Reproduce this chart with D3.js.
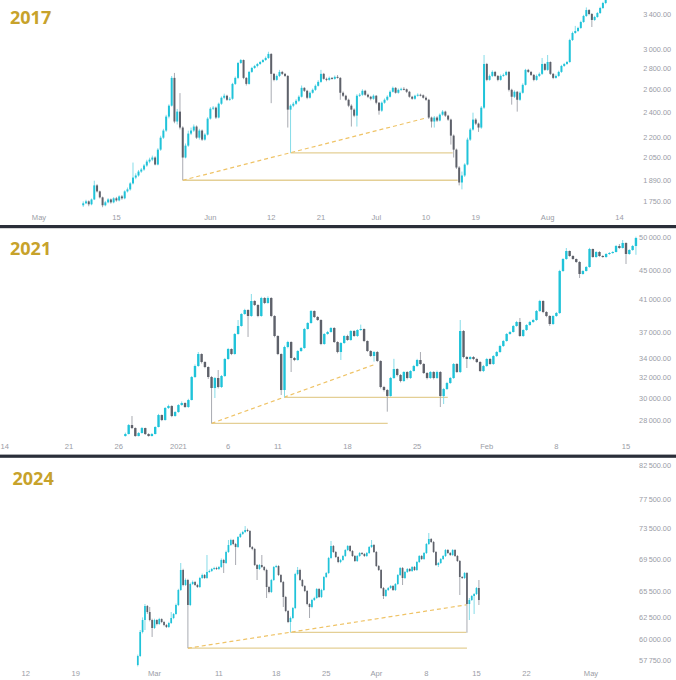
<!DOCTYPE html>
<html><head><meta charset="utf-8">
<script src="https://cdn.jsdelivr.net/npm/d3@7"></script>
<style>html,body{margin:0;padding:0;background:#fff}svg{display:block}</style>
</head><body>
<svg id="chart" width="676" height="680"></svg>
<script>
// ---------- 2017 : 12h candles starting 2017-05-09 00:00 UTC ----------
const start17 = "2017-05-09T00:00:00Z", step17 = 12, open17 = 1728;
const close17 = [1740,1752,1734,1764,1854,1815,1777,1728,1746,1764,
1746,1771,1758,1783,1771,1815,1828,1867,1906,1920,
1947,1961,1989,2017,2031,2046,1996,2104,2195,2251,
2365,2458,2712,2324,2407,2275,2046,2134,2227,2251,
2283,2195,2251,2180,2219,2348,2432,2441,2357,2475,
2528,2546,2510,2519,2655,2712,2859,2889,2712,2655,
2770,2809,2829,2849,2869,2889,2910,2952,2751,2693,
2731,2770,2751,2731,2424,2458,2475,2501,2537,2618,
2591,2528,2573,2600,2637,2674,2751,2703,2693,2712,
2703,2722,2712,2573,2546,2510,2458,2424,2373,2546,
2555,2591,2555,2537,2519,2546,2484,2415,2484,2510,
2537,2582,2618,2573,2600,2609,2605,2582,2537,2519,
2546,2555,2550,2528,2510,2357,2324,2357,2332,2381,
2407,2373,2340,2211,2104,1975,1873,1920,1996,2180,
2259,2340,2307,2275,2441,2849,2693,2731,2770,2731,
2693,2731,2741,2770,2600,2537,2582,2510,2573,2646,
2790,2770,2741,2693,2731,2751,2849,2790,2869,2751,
2712,2731,2770,2829,2849,2869,3101,3179,3202,3236,
3305,3376,3448,3400,3329,3364,3412,3473,3535,3611];
const high17 = [1752,1762,1758,1770,1885,1862,1820,1782,1755,1772,
1770,1778,1780,1790,1792,1822,1840,1875,2010,1935,
1958,1972,2000,2030,2045,2060,2055,2115,2210,2265,
2380,2470,2730,2760,2430,2570,2285,2150,2250,2275,
2300,2292,2265,2260,2230,2360,2445,2455,2450,2485,
2540,2565,2555,2535,2665,2725,2870,2900,2895,2720,
2780,2820,2840,2860,2880,2900,2925,2975,2960,2760,
2745,2790,2780,2760,2740,2470,2490,2515,2550,2640,
2625,2600,2585,2612,2650,2690,2790,2760,2715,2725,
2720,2735,2740,2720,2585,2555,2520,2470,2435,2560,
2570,2605,2600,2565,2545,2558,2552,2490,2495,2522,
2550,2595,2630,2625,2612,2620,2625,2612,2590,2545,
2555,2568,2565,2558,2540,2518,2365,2370,2368,2392,
2420,2415,2380,2348,2220,2112,1985,1947,2005,2195,
2272,2398,2352,2315,2455,2941,2860,2745,2785,2780,
2740,2745,2755,2782,2780,2610,2595,2590,2585,2660,
2800,2800,2780,2750,2745,2765,2910,2858,2941,2875,
2760,2745,2782,2840,2860,2880,3115,3195,3260,3250,
3320,3390,3480,3460,3412,3378,3425,3488,3550,3640];
const low17 = [1718,1735,1722,1728,1760,1808,1770,1716,1722,1740,
1738,1740,1750,1752,1762,1765,1808,1820,1860,1895,
1912,1938,1952,1980,2005,2020,1990,1990,2095,2185,
2240,2350,2450,2310,2300,2260,1888,2040,2125,2215,
2240,2185,2180,2170,2172,2212,2340,2420,2345,2350,
2465,2515,2500,2500,2510,2645,2700,2850,2700,2640,
2648,2760,2800,2815,2840,2860,2880,2900,2480,2680,
2685,2720,2740,2720,2275,2080,2445,2465,2490,2530,
2580,2515,2520,2565,2590,2630,2665,2695,2680,2685,
2695,2695,2705,2510,2535,2500,2445,2283,2360,2283,
2535,2545,2545,2525,2505,2510,2470,2381,2405,2475,
2500,2530,2575,2565,2565,2590,2595,2570,2528,2510,
2510,2538,2540,2520,2500,2345,2275,2275,2320,2325,
2372,2362,2330,2142,2046,1965,1854,1828,1910,1990,
2170,2250,2295,2240,2265,2430,2680,2685,2720,2720,
2680,2685,2722,2730,2585,2467,2525,2407,2500,2565,
2640,2760,2730,2680,2685,2720,2740,2780,2780,2740,
2700,2705,2722,2760,2820,2840,2860,3090,3170,3190,
3225,3295,3365,3385,3247,3318,3355,3400,3460,3520];
const priceTicks17 = [1750,1890,2050,2200,2400,2600,2800,3000,3400];
const timeTicks17 = ["2017-05-01","2017-05-15","2017-06-01","2017-06-12","2017-06-21","2017-07-01","2017-07-10","2017-07-19","2017-08-01","2017-08-14"];
const timeLabels17 = ["May","15","Jun","12","21","Jul","10","19","Aug","14"];
// pattern lines: [date, price]
const low1_17 = ["2017-05-27T00:00:00Z",1888], low2_17 = ["2017-06-15T12:00:00Z",2080];
const dashEnd17 = ["2017-07-10T04:00:00Z",2355];
const lowLineEnd17 = "2017-07-15T17:30:00Z", highLineEnd17 = "2017-07-14T20:00:00Z";

// ---------- 2021 : 8h candles starting 2020-12-26 16:00 UTC ----------
const start21 = "2020-12-26T16:00:00Z", step21 = 8, open21 = 26610;
const close21 = [26780,27556,27295,26610,26865,27295,26780,26610,26780,27383,
28445,27997,29085,29270,28355,28717,29362,29550,29177,29832,
32093,33233,34523,33657,33128,32093,30991,31991,31089,32195,
33980,35075,34523,36786,37733,39197,39698,38950,40850,40333,
38950,41240,40590,41240,38950,36554,34523,30795,35300,35864,
34088,33872,34854,35188,37375,38094,39573,38827,38458,35637,
36786,37020,37495,35864,34742,35751,36554,36092,37138,36554,
37256,37375,35978,34854,34306,34742,33765,31089,30795,30214,
31991,32917,32297,31688,32606,31991,32710,33233,33872,33445,
32503,31991,32606,31991,32606,30214,30893,31487,31991,33445,
32606,37138,34195,33980,34195,33980,33657,32710,33233,33980,
33445,34306,34742,35412,35978,36786,37020,37733,38215,36554,
37256,37853,38215,38458,39573,40850,39448,38950,37973,38950,
39323,44930,46672,47873,47118,46672,46232,44504,44930,45502,
48177,46968,47720,47118,46968,47418,47570,47720,48637,48330,
49110,47418,48025,48637,49890];
const high21 = [26900,27650,28355,27350,26950,27383,27330,26850,26870,27450,
28550,28500,29180,29400,29350,28800,29450,29700,29620,29950,
32200,33400,34742,34600,33750,33200,32200,32100,32813,32300,
34100,35200,35150,36900,38458,39300,39850,39800,41766,40950,
40450,41400,41350,41450,41350,39050,36650,34600,35450,36000,
35950,34200,34950,35300,37500,38200,39700,39650,38950,38550,
36900,37150,37600,37600,35950,35850,36650,36700,37250,37250,
37350,37900,37450,36050,34950,34850,34850,33850,31200,30900,
32100,34000,33000,32400,32700,32700,32800,33350,34000,34742,
33550,32600,32700,32700,32750,32700,31000,31600,32100,33550,
33550,38458,37250,34300,34300,34300,34100,33750,33350,34100,
34100,34400,34850,35550,36100,36900,37150,37850,38350,38705,
37350,37950,38350,38600,39700,41000,40950,39550,39050,39050,
39450,45100,46800,48330,47950,47250,46750,46350,45050,45650,
48350,48250,47850,47850,47250,47550,47700,47850,48800,48950,
49573,49200,48150,48800,50100];
const low21 = [26560,26750,27200,26550,26580,26820,26700,26560,26580,26750,
27350,27900,27950,29000,28250,28300,28650,29300,29100,29100,
29800,32000,33150,33500,33000,31900,27705,30023,30950,31000,
32100,33900,34400,34450,36700,37650,39100,36440,38850,40200,
38800,38850,40450,40500,38800,36400,34400,30310,30090,35150,
32606,33750,33800,34750,35100,37300,38000,38700,38350,35500,
35550,36700,36950,35750,34600,33872,35650,36000,36000,36450,
36450,37150,35850,34750,34200,33698,33650,30950,30650,28750,
30150,31900,32150,31550,31600,31850,31900,32650,33150,33350,
32400,31850,31900,31850,31900,29177,29455,30800,31400,31900,
32500,32500,34050,33022,33900,33850,33550,32600,32600,33150,
33350,33350,34200,34650,35300,35900,36700,36950,37650,36450,
36450,37150,37750,38100,38350,39450,39300,38800,37750,37850,
38850,39200,44800,46550,47000,46550,46100,43940,44400,44850,
45400,46850,46850,47000,46850,46850,47300,47450,47650,48200,
48250,45938,47300,47900,47300];
const priceTicks21 = [28000,30000,32000,34000,37000,41000,45000,50000];
const timeTicks21 = ["2020-12-14","2020-12-21","2020-12-26","2021-01-01","2021-01-06","2021-01-11","2021-01-18","2021-01-25","2021-02-01","2021-02-08","2021-02-15"];
const timeLabels21 = ["14","21","26","2021","6","11","18","25","Feb","8","15"];
const low1_21 = ["2021-01-04T08:00:00Z",27705], low2_21 = ["2021-01-11T16:00:00Z",30090];
const dashEnd21 = ["2021-01-20T21:00:00Z",33450];
const lowLineEnd21 = "2021-01-22T01:00:00Z", highLineEnd21 = "2021-01-28T02:00:00Z";

// ---------- 2024 : 8h candles starting 2024-02-27 16:00 UTC ----------
const start24 = "2024-02-27T16:00:00Z", step24 = 8, open24 = 57298;
const close24 = [58247,60856,62203,63814,63118,62203,61302,62203,61751,62317,
61977,61638,61414,61864,62431,62888,63930,65704,68148,66307,
66915,63930,66429,66672,66307,66066,67160,67528,67160,67900,
68024,68273,68397,68273,68522,69403,69024,70425,71330,71984,
71461,71071,72380,72777,73044,73310,73177,71071,70812,68772,
68273,68772,68522,68148,66066,65465,66915,68522,68647,67528,
66672,64870,63234,61977,62431,63581,67652,68148,66915,66186,
65585,64047,63698,64516,64752,65825,64870,65704,67283,67776,
69658,71200,70425,69785,69150,69403,69913,70682,71200,70554,
69913,69277,69913,70297,70168,69913,70297,71071,71330,70425,
68647,68148,65945,64989,65704,65945,66186,65704,66429,67528,
68397,67160,67900,68273,68024,68522,68148,69150,69913,69530,
70297,71461,72116,71722,70425,68772,69024,69530,69913,70682,
70297,70040,70682,69913,69277,67283,67160,67776,64047,64516,
64989,65226,65945,64516];
const high24 = [58400,61078,62500,64047,63930,63698,62350,62350,62300,62450,
62400,62100,61750,62000,63118,63000,64100,65850,69024,68300,
67100,67050,66600,66850,66800,66450,67300,67700,67650,70040,
68200,68400,68550,68550,68650,69600,69550,70600,71984,72150,
72100,71600,72500,72950,73200,73840,73500,73300,71200,70950,
68900,68900,70040,68650,68300,66200,67050,68650,68800,68750,
67650,66800,65000,63350,62600,63700,67800,68522,68300,67050,
66300,65700,64150,64650,64900,65950,65950,65850,67400,67900,
69800,71853,71330,70550,69900,69550,70050,70800,71330,71330,
70682,70040,70040,70425,70425,70297,70425,71200,71984,71461,
70554,68772,68273,66066,65825,66066,66307,66307,66550,67652,
68522,68522,68024,68397,68397,68647,68647,69277,70040,70040,
70425,71592,72911,72248,71853,70554,69150,69658,70040,70812,
70812,70425,70812,70812,70040,69403,67405,67900,67900,64752,
65107,65345,66066,66915];
const low24 = [57150,58150,60700,61078,62900,62050,60305,61200,61600,61650,
61850,61500,61300,61300,61750,62300,62800,63800,65600,66150,
66200,59086,63800,66300,66200,65950,65950,67050,67050,67050,
67800,67900,68150,68150,68150,68400,67776,68900,70300,71200,
71300,68772,70950,72250,72650,72900,73050,70950,70650,68650,
66915,68150,68400,68000,64752,65300,65350,66800,68400,67400,
66550,63698,63100,61850,60823,62300,63450,67500,66800,66050,
65450,63900,62431,63550,64400,64650,64750,64750,65600,67150,
67650,69550,70300,69650,69000,69000,69300,69800,70550,70400,
69800,69150,69150,69800,70040,69785,69785,70168,70941,70297,
68522,68024,65825,64634,64870,65585,65825,65585,65585,66307,
67405,66307,67038,67776,67900,67900,68024,68024,69024,69403,
69403,70168,71330,71592,70297,68647,68522,68898,69403,69785,
70168,69913,69913,69785,69150,65107,67038,67038,60779,62203,
64400,62888,65107,63930];
const priceTicks24 = [57750,60000,62500,65500,69500,73500,77500,82500];
const timeTicks24 = ["2024-02-12","2024-02-19","2024-03-01","2024-03-10","2024-03-18","2024-03-25","2024-04-01","2024-04-08","2024-04-15","2024-04-22","2024-05-01"];
const timeLabels24 = ["12","19","Mar","11","18","25","Apr","8","15","22","May"];
const low1_24 = ["2024-03-05T16:00:00Z",59086], low2_24 = ["2024-03-20T00:00:00Z",60823];
const dashEnd24 = ["2024-04-13T16:00:00Z",63960];
const lowLineEnd24 = "2024-04-13T16:00:00Z", highLineEnd24 = "2024-04-13T14:00:00Z";

// ---------- styles ----------
const UP = "#20c3d9", UP_WICK = "#86dce8", DOWN = "#5e616a", DOWN_WICK = "#a9abb2";
const LINE_SOLID = "#e4cf95", LINE_DASH = "#efc366", TITLE = "#c7a22b", LABEL = "#9a9da6";

const svg = d3.select("#chart");
svg.append("rect").attr("width",676).attr("height",680).attr("fill","#fff");
const defs = svg.append("defs");
const fmt = v => d3.format(",.2f")(v).replace(/,/g, "\u202F");
const P = s => new Date(s.length === 10 ? s + "T00:00:00Z" : s);

const panels = [
  {id:"p17", title:"2017", top:0, bottom:225, tx:10, ty:23.5, start:start17, step:step17, open:open17, c:close17, h:high17, l:low17,
   xd:["2017-05-01","2017-08-14"], xr:[39,619.5], yd:[1750,3400], yr:[201.7,14], pt:priceTicks17, tt:timeTicks17, tl:timeLabels17, ly:217,
   low1:low1_17, low2:low2_17, dash:dashEnd17, lowEnd:lowLineEnd17, highEnd:highLineEnd17},
  {id:"p21", title:"2021", top:228, bottom:455, tx:10, ty:254.5, start:start21, step:step21, open:open21, c:close21, h:high21, l:low21,
   xd:["2020-12-21","2021-02-15"], xr:[69,626], yd:[28000,50000], yr:[420,237.3], pt:priceTicks21, tt:timeTicks21, tl:timeLabels21, ly:446,
   low1:low1_21, low2:low2_21, dash:dashEnd21, lowEnd:lowLineEnd21, highEnd:highLineEnd21},
  {id:"p24", title:"2024", top:458, bottom:680, tx:12.5, ty:485, start:start24, step:step24, open:open24, c:close24, h:high24, l:low24,
   xd:["2024-02-12","2024-05-01"], xr:[25.7,591], yd:[57750,82500], yr:[660.7,465.3], pt:priceTicks24, tt:timeTicks24, tl:timeLabels24, ly:673,
   low1:low1_24, low2:low2_24, dash:dashEnd24, lowEnd:lowLineEnd24, highEnd:highLineEnd24}
];

panels.forEach(p => {
  const x = d3.scaleUtc().domain(p.xd.map(P)).range(p.xr);
  const y = d3.scaleLog().domain(p.yd).range(p.yr);
  const g = svg.append("g");
  defs.append("clipPath").attr("id","clip-"+p.id).append("rect")
    .attr("x",0).attr("y",p.top).attr("width",638).attr("height",p.bottom-p.top-12);

  // title
  g.append("text").attr("x",p.tx).attr("y",p.ty).text(p.title)
    .attr("font-family","'Open Sans', 'DejaVu Sans', sans-serif").attr("font-weight",700)
    .attr("font-size",18).attr("fill",TITLE);

  // price axis labels
  g.selectAll(".pl").data(p.pt).enter().append("text")
    .attr("x",671).attr("y",d => y(d)).attr("dy","0.35em").attr("text-anchor","end")
    .attr("font-family","'Liberation Sans', Arial, sans-serif").attr("font-size",7.3)
    .attr("fill",LABEL).text(fmt);

  // time axis labels (a label that would fall off the left edge is kept fully visible)
  g.selectAll(".tl").data(p.tt).enter().append("text")
    .attr("x",d => Math.max(0.5, x(P(d)))).attr("y",p.ly).attr("dy","0.35em")
    .attr("text-anchor",d => x(P(d)) < 6 ? "start" : "middle")
    .attr("font-family","'Liberation Sans', Arial, sans-serif").attr("font-size",7.6)
    .attr("fill",LABEL).text((d,i) => p.tl[i]);

  const plot = g.append("g").attr("clip-path","url(#clip-"+p.id+")");

  // candles
  const t0 = P(p.start).getTime();
  const stepMs = p.step * 3600e3;
  const spacing = x(new Date(t0 + stepMs)) - x(new Date(t0));
  const bw = Math.max(1.4, spacing * 0.72);
  const candles = p.c.map((c,i) => ({t:new Date(t0 + i*stepMs), o: i === 0 ? p.open : p.c[i-1], c, h:p.h[i], l:p.l[i]}));

  // pattern lines (under candles)
  const X = s => x(P(s));
  plot.append("line").attr("x1",X(p.low1[0])).attr("y1",y(p.low1[1])).attr("x2",X(p.lowEnd)).attr("y2",y(p.low1[1]))
    .attr("stroke",LINE_SOLID).attr("stroke-width",1.3);
  plot.append("line").attr("x1",X(p.low2[0])).attr("y1",y(p.low2[1])).attr("x2",X(p.highEnd)).attr("y2",y(p.low2[1]))
    .attr("stroke",LINE_SOLID).attr("stroke-width",1.3);
  plot.append("line").attr("x1",X(p.low1[0])).attr("y1",y(p.low1[1])).attr("x2",X(p.dash[0])).attr("y2",y(p.dash[1]))
    .attr("stroke",LINE_DASH).attr("stroke-width",1.2).attr("stroke-dasharray","4 3");

  const cg = plot.selectAll(".c").data(candles).enter().append("g");
  cg.append("line")
    .attr("x1",d => x(d.t)).attr("x2",d => x(d.t))
    .attr("y1",d => y(d.h)).attr("y2",d => y(d.l))
    .attr("stroke",d => d.c >= d.o ? UP_WICK : DOWN_WICK).attr("stroke-width",1);
  cg.append("rect")
    .attr("x",d => x(d.t) - bw/2).attr("width",bw)
    .attr("y",d => y(Math.max(d.o,d.c)))
    .attr("height",d => Math.max(1, y(Math.min(d.o,d.c)) - y(Math.max(d.o,d.c))))
    .attr("fill",d => d.c >= d.o ? UP : DOWN);
});

// panel separators
[225, 454.6].forEach(yy => {
  svg.append("rect").attr("x",0).attr("y",yy).attr("width",676).attr("height",3.2).attr("fill","#2a2e39");
});
</script>
</body></html>
